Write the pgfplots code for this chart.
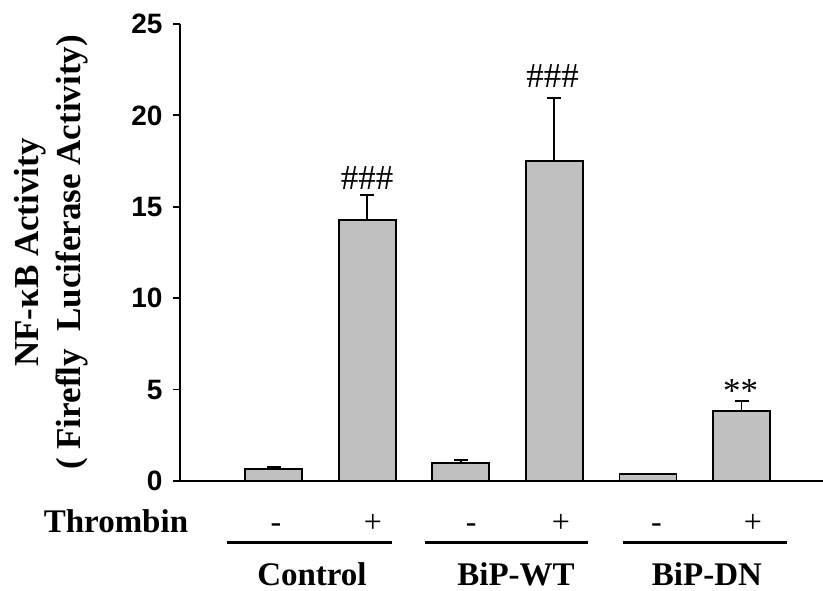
\documentclass[border=0pt]{standalone}
\usepackage{fontspec}
\setmainfont{Liberation Serif}
\newfontfamily\arialfont{Liberation Sans}
\usepackage{pgfplots}
\pgfplotsset{compat=1.18}

\definecolor{bargray}{RGB}{192,192,192}
\tikzset{
  pm/.style={anchor=base, font=\fontsize{32bp}{32bp}\selectfont, inner sep=0pt},
  grp/.style={anchor=base, font=\bfseries\fontsize{33bp}{33bp}\selectfont, inner sep=0pt},
  sig/.style={anchor=base, font=\fontsize{35bp}{35bp}\selectfont, inner sep=0pt},
}

\begin{document}
\begin{tikzpicture}
  \useasboundingbox (-180bp,-110bp) rectangle (643bp,481bp);
  \begin{axis}[
    scale only axis,
    width=643bp, height=457bp,
    xmin=0, xmax=6.87,
    ymin=0, ymax=25,
    axis x line*=bottom,
    axis y line*=left,
    axis line style={line width=1.8bp, black},
    xtick=\empty,
    ytick={0,5,10,15,20,25},
    tick align=outside,
    major tick length=7bp,
    tick style={line width=1.8bp, black},
    yticklabel style={font=\arialfont\bfseries\fontsize{28bp}{28bp}\selectfont,
      /pgf/number format/assume math mode=true, xshift=-7bp},
    ylabel={NF-κB Activity\\( Firefly\ \ Luciferase Activity)},
    ylabel style={font=\bfseries\fontsize{35bp}{42bp}\selectfont, align=center,
      at={(axis description cs:-0.143,0.5)}, anchor=south, inner sep=0pt},
    clip=false,
    ybar,
    bar width=0.61,
  ]

  % bars with upper error bars
  \addplot[fill=bargray, draw=black, line width=1.8bp,
    error bars/.cd, y dir=plus, y explicit,
    error bar style={line width=1.8bp, black},
    error mark options={rotate=90, mark size=7bp, line width=1.8bp, black}]
  coordinates {
    (1, 0.66) +- (0, 0.10)
    (2, 14.28) +- (0, 1.37)
    (3, 0.98) +- (0, 0.17)
    (4, 17.50) +- (0, 3.45)
    (5, 0.38) +- (0, 0.0)
    (6, 3.83) +- (0, 0.55)
  };

  % significance marks
  \node[sig] at (axis cs:2.00,15.97) {\#\#\#};
  \node[sig] at (axis cs:3.98,21.55) {\#\#\#};
  \node[sig] at (axis cs:5.99,4.32) {**};

  % treatment row
  \node[grp] at (axis cs:-0.684,-2.79) {Thrombin};
  \node[pm] at (axis cs:1.026,-2.79) {-};
  \node[pm] at (axis cs:2.06,-2.79) {+};
  \node[pm] at (axis cs:3.11,-2.79) {-};
  \node[pm] at (axis cs:4.07,-2.79) {+};
  \node[pm] at (axis cs:5.09,-2.79) {-};
  \node[pm] at (axis cs:6.12,-2.79) {+};

  % group lines and names
  \draw[line width=3bp] (axis cs:0.502,-3.34) -- (axis cs:2.265,-3.34);
  \draw[line width=3bp] (axis cs:2.62,-3.34) -- (axis cs:4.36,-3.34);
  \draw[line width=3bp] (axis cs:4.73,-3.34) -- (axis cs:6.485,-3.34);
  \node[grp] at (axis cs:1.41,-5.69) {Control};
  \node[grp] at (axis cs:3.59,-5.69) {BiP-WT};
  \node[grp] at (axis cs:5.63,-5.69) {BiP-DN};
  \end{axis}
\end{tikzpicture}
\end{document}
